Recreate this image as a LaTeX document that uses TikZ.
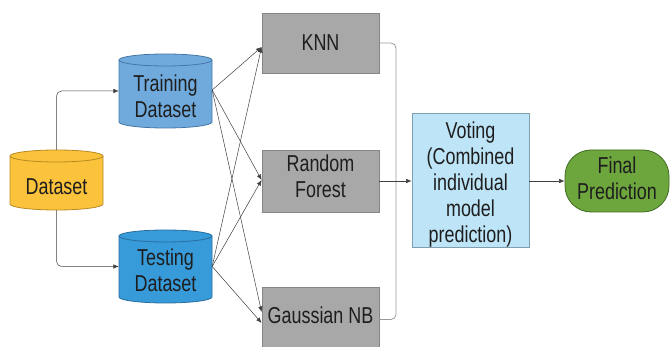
\documentclass[tikz,border=0pt]{standalone}
\usepackage{fontspec}
\setmainfont{Liberation Sans}
\newfontfamily\lblfont[FakeStretch=0.78]{Liberation Sans}
\usetikzlibrary{arrows.meta,calc}
\definecolor{dsfill}{HTML}{FBC23C}
\definecolor{dsline}{HTML}{B88A22}
\definecolor{trfill}{HTML}{70AADD}
\definecolor{trline}{HTML}{4577A6}
\definecolor{tefill}{HTML}{379AD9}
\definecolor{teline}{HTML}{2A6E9E}
\definecolor{gyfill}{HTML}{A8A8A8}
\definecolor{gyline}{HTML}{858585}
\definecolor{vofill}{HTML}{BEE4F7}
\definecolor{voline}{HTML}{7F9EAE}
\definecolor{fpfill}{HTML}{6DA63C}
\definecolor{fpline}{HTML}{3F6A22}
\definecolor{txt}{HTML}{1E1E1E}
\newcommand\mycyl[5]{% x1 x2 ybottom ytop colour-prefix
  \pgfmathsetmacro\rx{(#2-#1)/2}%
  \filldraw[fill=#5fill,draw=#5line,line width=0.8pt]
    (#1,#4-6) -- (#1,#3+6) arc[start angle=180,end angle=360,x radius=\rx,y radius=6]
    -- (#2,#4-6) arc[start angle=0,end angle=180,x radius=\rx,y radius=6] -- cycle;
  \draw[#5line,line width=0.8pt] (#1,#4-6) arc[start angle=180,end angle=360,x radius=\rx,y radius=6];
}
\newcommand\shiftlines[2]{\raisebox{#1}[\height][\depth]{\begin{tabular}{@{}c@{}}#2\end{tabular}}}
\begin{document}
\begin{tikzpicture}[x=1pt,y=1pt,
  lbl/.style={text=txt,font=\lblfont\fontsize{23}{26}\selectfont,align=center,inner sep=0pt},
  gbox/.style={lbl,draw=gyline,fill=gyfill,line width=0.8pt,minimum width=117pt},
  conn/.style={draw=black!75,line width=0.5pt,-{Latex[length=5.5pt,width=4.5pt]}},
  bus/.style={draw=black!40,line width=0.8pt,rounded corners=5pt}]
\useasboundingbox (0,0) rectangle (670,347);
\clip (0,0) rectangle (670,347);
% cylinders
\mycyl{10}{103}{137}{197}{ds}
\mycyl{119}{212}{219}{293}{tr}
\mycyl{119}{212}{44}{117}{te}
\node[lbl,minimum width=93pt,minimum height=60pt] (data) at (56.5,167) {\shiftlines{-9pt}{Dataset}};
\node[lbl,minimum width=93pt,minimum height=74pt] (train) at (165.5,256) {\shiftlines{-8pt}{Training\\Dataset}};
\node[lbl,minimum width=93pt,minimum height=73pt] (test) at (165.5,80.5) {\shiftlines{-7pt}{Testing\\Dataset}};
% classifiers
\node[gbox,minimum height=60pt] (knn) at (320.5,304) {KNN};
\node[gbox,minimum height=62pt] (rf) at (320.5,166) {\shiftlines{2pt}{Random\\Forest}};
\node[gbox,minimum height=65pt] (gnb) at (320.5,27.5) {\shiftlines{1pt}{Gaussian NB}};
% voting and final
\node[lbl,draw=voline,fill=vofill,line width=0.8pt,minimum width=117pt,minimum height=134pt] (vote) at (470.5,167) {\shiftlines{-5pt}{Voting\\(Combined\\individual\\model\\prediction)}};
\node[lbl,draw=fpline,fill=fpfill,line width=0.8pt,minimum width=104pt,minimum height=62pt,rounded corners=26pt] (final) at (617,166) {\shiftlines{0pt}{Final\\Prediction}};
% connectors from dataset
\draw[conn,rounded corners=5pt] (data.north) |- (train.west);
\draw[conn,rounded corners=5pt] (data.south) |- (test.west);
% training/testing to classifiers
\draw[conn] ([yshift=1pt]train.east) -- ([yshift=-4pt]knn.west);
\draw[conn] ([yshift=1pt]train.east) -- ([yshift=1pt]rf.west);
\draw[conn] ([yshift=1pt]train.east) -- ([yshift=7.5pt]gnb.west);
\draw[conn] (test.east) -- ([yshift=-4pt]knn.west);
\draw[conn] (test.east) -- ([yshift=1pt]rf.west);
\draw[conn] (test.east) -- ([yshift=-3.5pt]gnb.west);
% bus to voting
\coordinate (bus) at (396,166);
\draw[bus] (knn.east) -| (bus);
\draw[bus] (gnb.east) -| (bus);
\draw[conn] (rf.east) -- (vote.west |- rf.east);
\draw[conn] (vote.east |- final.west) -- (final.west);
\end{tikzpicture}
\end{document}
